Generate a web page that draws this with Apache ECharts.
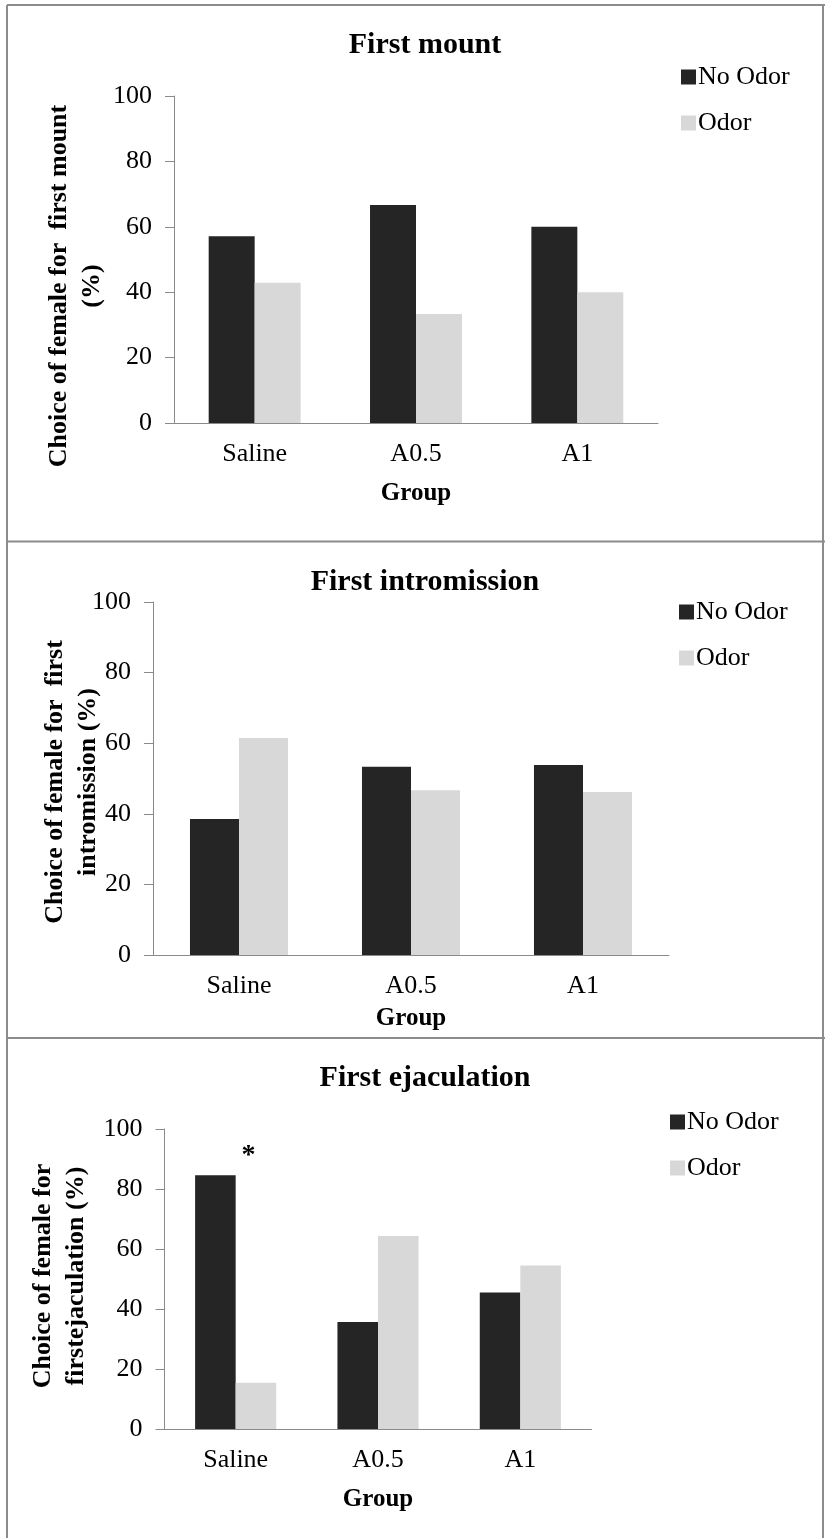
<!DOCTYPE html>
<html>
<head>
<meta charset="utf-8">
<script src="https://cdn.jsdelivr.net/npm/echarts@6/dist/echarts.min.js"></script>
<style>
  html, body { margin: 0; padding: 0; background: #fff; }
  #chart { width: 825px; height: 1538px; }
</style>
</head>
<body>
<div id="chart"></div>
<script>
// Groups and percentages for each behaviour
const categories = ['Saline', 'A0.5', 'A1'];
const seriesNames = ['No Odor', 'Odor'];

const mountNoOdor = [57.1, 66.7, 60.0];
const mountOdor   = [42.9, 33.3, 40.0];

const introNoOdor = [38.5, 53.3, 53.8];
const introOdor   = [61.5, 46.7, 46.2];

const ejacNoOdor  = [84.6, 35.7, 45.5];
const ejacOdor    = [15.4, 64.3, 54.5];

const yMin = 0, yMax = 100, yStep = 20;

const panelTitles = ['First mount', 'First intromission', 'First ejaculation'];
const yTitles = [
  ['Choice of female for  first mount', '(%)'],
  ['Choice of female for  first', 'intromission (%)'],
  ['Choice of female for', 'firstejaculation (%)']
];
const xTitle = 'Group';
const significance = { category: 'Saline', value: 93, mark: '*' };

const FONT = "'Liberation Serif', 'Times New Roman', serif";
const DARK = '#252525';
const LIGHT = '#d8d8d8';
const AXIS = '#8a8a8a';

// layout of each panel: plot box, title, legend, y-title columns
const panels = [
  { grid: { left: 174, top: 96, width: 484, height: 327 }, titleTop: 30, legend: { left: 681, top: 64 },
    yTitleX: [59, 92], yTitleY: 286, nameGap: 58, data: [mountNoOdor, mountOdor] },
  { grid: { left: 153, top: 602, width: 516, height: 353 }, titleTop: 567, legend: { left: 679, top: 599 },
    yTitleX: [55, 88], yTitleY: 782, nameGap: 51, data: [introNoOdor, introOdor] },
  { grid: { left: 164.5, top: 1129, width: 427, height: 300 }, titleTop: 1063, legend: { left: 670, top: 1109 },
    yTitleX: [43, 76], yTitleY: 1276, nameGap: 58, data: [ejacNoOdor, ejacOdor] }
];

const chart = echarts.init(document.getElementById('chart'), null, { renderer: 'canvas' });

const option = {
  backgroundColor: '#fff',
  animation: false,
  title: panels.map((p, i) => ({
    text: panelTitles[i],
    left: 425,
    top: p.titleTop,
    textAlign: 'center',
    padding: 0,
    textStyle: { fontFamily: FONT, fontSize: 30, fontWeight: 'bold', color: '#000', lineHeight: 30 }
  })),
  legend: panels.map(p => ({
    data: seriesNames,
    orient: 'vertical',
    left: p.legend.left,
    top: p.legend.top,
    padding: 0,
    itemWidth: 15,
    itemHeight: 15,
    itemGap: 20,
    icon: 'rect',
    selectedMode: false,
    textStyle: { fontFamily: FONT, fontSize: 26, color: '#000', lineHeight: 25, padding: [0, 0, 0, -3] }
  })),
  grid: panels.map(p => Object.assign({ containLabel: false }, p.grid)),
  xAxis: panels.map((p, i) => ({
    type: 'category',
    gridIndex: i,
    data: categories,
    name: xTitle,
    nameLocation: 'middle',
    nameGap: p.nameGap,
    nameTextStyle: { fontFamily: FONT, fontSize: 25, fontWeight: 'bold', color: '#000' },
    axisLine: { lineStyle: { color: AXIS, width: 1 } },
    axisTick: { show: false },
    axisLabel: { fontFamily: FONT, fontSize: 26, color: '#000', margin: 18 }
  })),
  yAxis: panels.map((p, i) => ({
    type: 'value',
    gridIndex: i,
    min: yMin,
    max: yMax,
    interval: yStep,
    splitLine: { show: false },
    axisLine: { show: true, lineStyle: { color: AXIS, width: 1 } },
    axisTick: { show: true, length: 9, lineStyle: { color: AXIS } },
    axisLabel: { fontFamily: FONT, fontSize: 26, color: '#000', margin: 22 }
  })),
  series: [],
  graphic: []
};

panels.forEach((p, i) => {
  seriesNames.forEach((name, k) => {
    const s = {
      name: name,
      type: 'bar',
      xAxisIndex: i,
      yAxisIndex: i,
      data: p.data[k],
      barGap: '0%',
      barCategoryGap: '43%',
      itemStyle: { color: k === 0 ? DARK : LIGHT }
    };
    if (i === 2 && k === 0) {
      // significance marker above the Saline pair
      s.markPoint = {
        symbol: 'circle',
        symbolSize: 1,
        itemStyle: { color: 'rgba(0,0,0,0)' },
        label: {
          show: true,
          formatter: significance.mark,
          position: 'inside',
          offset: [33, 6],
          fontFamily: FONT, fontSize: 28, fontWeight: 'bold', color: '#000'
        },
        data: [{ coord: [significance.category, significance.value] }]
      };
    }
    option.series.push(s);
  });

  // rotated y-axis titles (two lines)
  yTitles[i].forEach((line, j) => {
    option.graphic.push({
      type: 'text',
      x: p.yTitleX[j],
      y: p.yTitleY,
      rotation: Math.PI / 2,
      style: {
        text: line,
        fontFamily: FONT,
        fontSize: 26,
        fontWeight: 'bold',
        fill: '#000',
        textAlign: 'center',
        textVerticalAlign: 'middle'
      }
    });
  });
});

// frame lines around and between the panels
const frame = [
  [7, 5, 825, 5],
  [7, 5, 7, 1538],
  [823, 5, 823, 1538],
  [7, 541.5, 825, 541.5],
  [7, 1038, 825, 1038]
];
frame.forEach(f => {
  option.graphic.push({
    type: 'line',
    shape: { x1: f[0], y1: f[1], x2: f[2], y2: f[3] },
    style: { stroke: '#8c8c8c', lineWidth: 2 },
    silent: true
  });
});

chart.setOption(option);
</script>
</body>
</html>
